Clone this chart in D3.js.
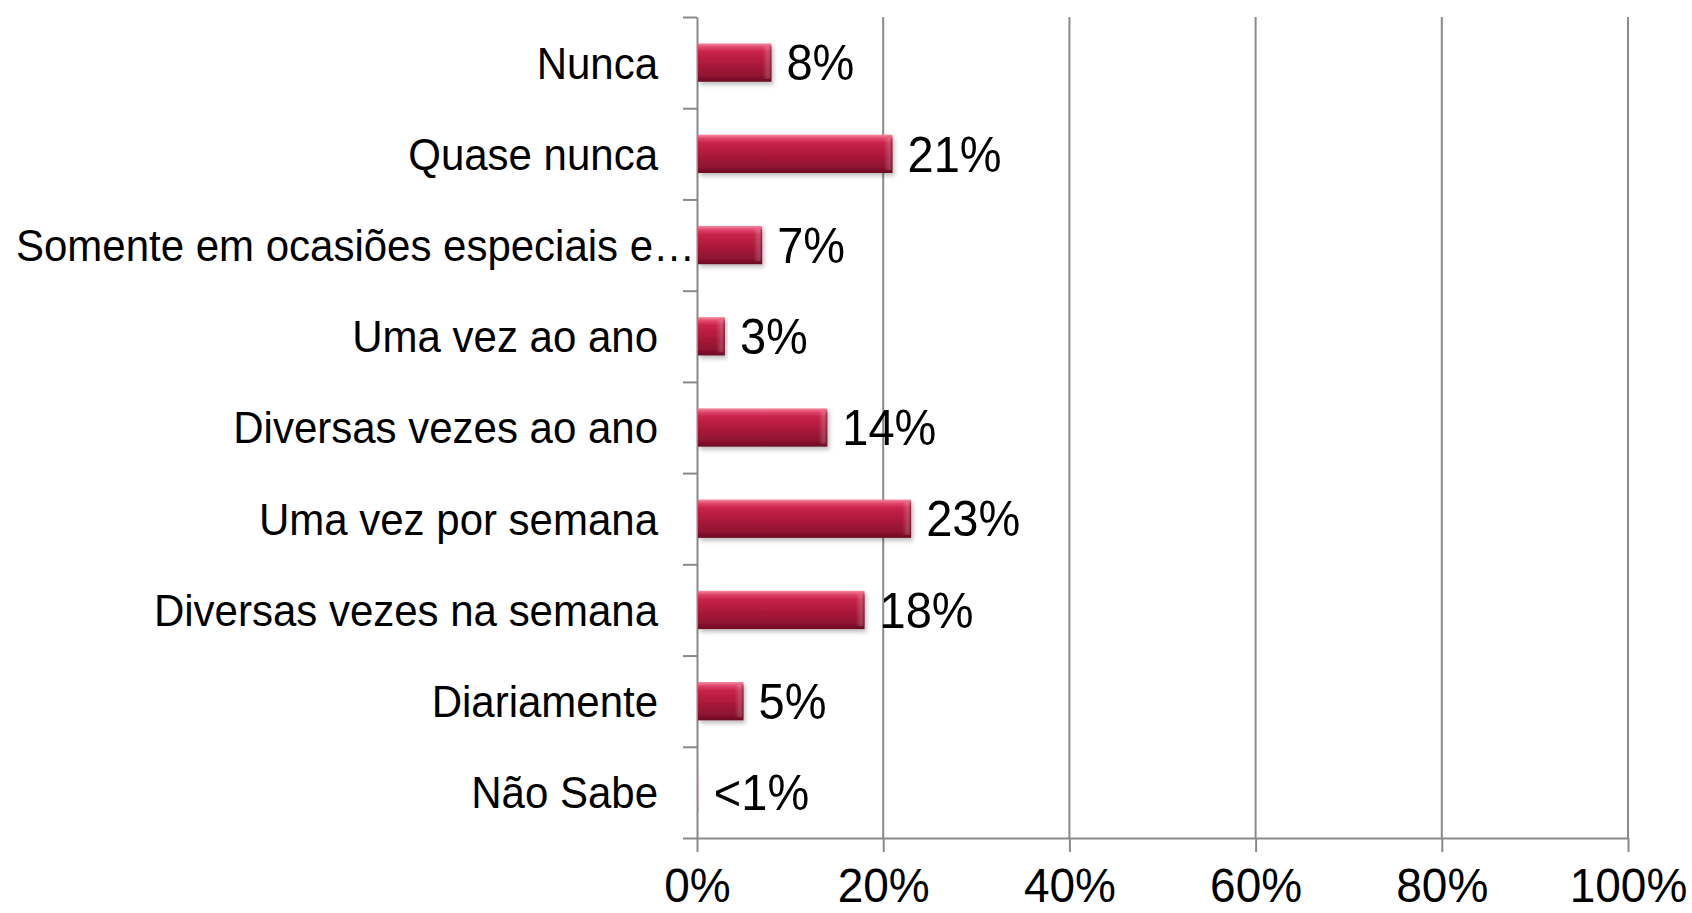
<!DOCTYPE html>
<html>
<head>
<meta charset="utf-8">
<script src="https://cdn.jsdelivr.net/npm/d3@7"></script>
<style>
  html, body { margin: 0; padding: 0; background: #fff; }
  svg { display: block; font-family: "Liberation Sans", Arial, sans-serif; }
</style>
</head>
<body>
<div id="chart"></div>
<script>
(function () {
  // data
  const categories = [
    "Nunca",
    "Quase nunca",
    "Somente em ocasiões especiais e…",
    "Uma vez ao ano",
    "Diversas vezes ao ano",
    "Uma vez por semana",
    "Diversas vezes na semana",
    "Diariamente",
    "Não Sabe"
  ];
  const values = [0.08, 0.21, 0.07, 0.03, 0.14, 0.23, 0.18, 0.05, 0.002];
  const valueLabels = ["8%", "21%", "7%", "3%", "14%", "23%", "18%", "5%", "<1%"];
  const xTicks = [0, 0.2, 0.4, 0.6, 0.8, 1.0];
  const xTickLabels = ["0%", "20%", "40%", "60%", "80%", "100%"];

  const width = 1692;
  const height = 913;
  const margin = { top: 17, right: 64, bottom: 75, left: 697 };

  const AXIS_COLOR = "#8a8a8a";
  const STRETCH = 1.05; // text in the original looks a bit taller than wide

  const svg = d3.select("#chart").append("svg")
    .attr("width", width)
    .attr("height", height);

  const innerW = width - margin.left - margin.right;
  const innerH = height - margin.top - margin.bottom;

  const defs = svg.append("defs");

  // bevelled bar look
  const grad = defs.append("linearGradient")
    .attr("id", "barGrad")
    .attr("x1", 0).attr("y1", 0).attr("x2", 0).attr("y2", 1);
  [
    [0, "#f58aa0"], [0.1, "#e0456a"], [0.22, "#c8234a"],
    [0.5, "#b01a3c"], [0.85, "#8e1230"], [1, "#6a0b22"]
  ].forEach(([o, c]) => grad.append("stop").attr("offset", o).attr("stop-color", c));

  const endGrad = defs.append("linearGradient")
    .attr("id", "endGrad")
    .attr("x1", 0).attr("y1", 0).attr("x2", 1).attr("y2", 0);
  endGrad.append("stop").attr("offset", 0).attr("stop-color", "#fff").attr("stop-opacity", 0);
  endGrad.append("stop").attr("offset", 0.6).attr("stop-color", "#fff").attr("stop-opacity", 0.18);
  endGrad.append("stop").attr("offset", 1).attr("stop-color", "#3a0010").attr("stop-opacity", 0.35);

  const shadow = defs.append("filter").attr("id", "shadow")
    .attr("x", "-5%").attr("y", "-20%").attr("width", "115%").attr("height", "160%");
  shadow.append("feDropShadow")
    .attr("dx", 2).attr("dy", 3).attr("stdDeviation", 2)
    .attr("flood-color", "#000").attr("flood-opacity", 0.25);

  const g = svg.append("g")
    .attr("transform", `translate(${margin.left},${margin.top})`);

  const x = d3.scaleLinear().domain([0, 1]).range([0, innerW]);
  const y = d3.scaleBand()
    .domain(categories)
    .range([0, innerH])
    .paddingInner(0.58)
    .paddingOuter(0.29);
  const yEdge = d3.scaleLinear().domain([0, categories.length]).range([0, innerH]);

  // vertical gridlines
  g.append("g")
    .selectAll("line")
    .data(xTicks.slice(1))
    .join("line")
    .attr("x1", d => x(d)).attr("x2", d => x(d))
    .attr("y1", 0).attr("y2", innerH)
    .attr("stroke", AXIS_COLOR)
    .attr("stroke-width", 2);

  // x axis
  const xAxisG = g.append("g")
    .attr("transform", `translate(0,${innerH})`)
    .call(d3.axisBottom(x).tickValues(xTicks).tickSize(14).tickSizeOuter(0)
      .tickFormat((d, i) => xTickLabels[i]));
  xAxisG.select(".domain").attr("stroke", AXIS_COLOR).attr("stroke-width", 2);
  xAxisG.selectAll(".tick line").attr("stroke", AXIS_COLOR).attr("stroke-width", 2);
  xAxisG.selectAll(".tick text")
    .attr("y", 0)
    .attr("dy", 0)
    .attr("transform", `translate(0,64) scale(1,${STRETCH})`)
    .style("font-size", "46px")
    .style("font-family", "'Liberation Sans', Arial, sans-serif")
    .attr("fill", "#000");

  // y axis with ticks between categories
  const yAxisG = g.append("g")
    .call(d3.axisLeft(yEdge).tickValues(d3.range(categories.length + 1))
      .tickSize(14).tickSizeOuter(0).tickFormat(""));
  yAxisG.select(".domain").attr("stroke", AXIS_COLOR).attr("stroke-width", 2);
  yAxisG.selectAll(".tick line").attr("stroke", AXIS_COLOR).attr("stroke-width", 2);

  const rows = categories.map((c, i) => ({ cat: c, value: values[i], label: valueLabels[i] }));

  // bars
  const bars = g.append("g").selectAll("g.bar")
    .data(rows)
    .join("g")
    .attr("class", "bar");

  bars.append("rect")
    .attr("x", 1)
    .attr("y", d => y(d.cat))
    .attr("width", d => Math.max(0, x(d.value) - 1))
    .attr("height", y.bandwidth())
    .attr("fill", "url(#barGrad)")
    .attr("opacity", d => d.value < 0.01 ? 0.25 : 1)
    .attr("filter", "url(#shadow)");

  bars.append("rect")
    .attr("x", d => Math.max(1, x(d.value) - 9))
    .attr("y", d => y(d.cat) + 3)
    .attr("width", d => Math.min(9, Math.max(0, x(d.value) - 1)))
    .attr("height", y.bandwidth() - 6)
    .attr("fill", "url(#endGrad)");

  // value labels
  g.append("g").selectAll("text")
    .data(rows)
    .join("text")
    .attr("transform", d =>
      `translate(${x(d.value) + 15},${y(d.cat) + y.bandwidth() / 2}) scale(1,${STRETCH})`)
    .attr("dy", "0.36em")
    .style("font-size", "47px")
    .attr("fill", "#000")
    .text(d => d.label);

  // category labels
  const catLabels = g.append("g").selectAll("text")
    .data(categories)
    .join("text")
    .attr("transform", d => `translate(-39,${y(d) + y.bandwidth() / 2}) scale(1,${STRETCH})`)
    .attr("dy", "0.36em")
    .attr("text-anchor", "end")
    .style("font-size", "42px")
    .attr("fill", "#000")
    .text(d => d);

  // keep long labels inside the page
  catLabels.each(function (d) {
    const bb = this.getBBox();
    const left = margin.left - 39 + bb.x;
    if (left < 16) {
      d3.select(this).attr("transform",
        `translate(${-39 + (16 - left)},${y(d) + y.bandwidth() / 2}) scale(1,${STRETCH})`);
    }
  });
})();
</script>
</body>
</html>
